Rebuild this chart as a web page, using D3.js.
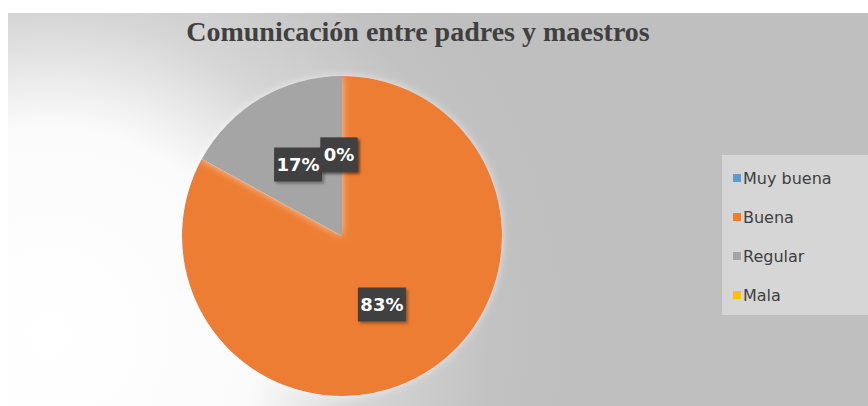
<!DOCTYPE html>
<html>
<head>
<meta charset="utf-8">
<script src="https://cdn.jsdelivr.net/npm/d3@7"></script>
<style>
  body { margin: 0; background: #fff; }
</style>
</head>
<body>
<svg width="868" height="406"></svg>
<script>
const categories = ['Muy buena', 'Buena', 'Regular', 'Mala']
const values = [0, 83, 17, 0]
const colors = ['#5b9bd5', '#ed7d31', '#a5a5a5', '#ffc000']
const title = 'Comunicación entre padres y maestros'

const svg = d3.select('svg')
const defs = svg.append('defs')

// background: white glow low-left fading to gray
const bg = defs.append('radialGradient')
    .attr('id', 'bg')
    .attr('gradientUnits', 'userSpaceOnUse')
    .attr('cx', 50).attr('cy', 335).attr('r', 520)
bg.append('stop').attr('offset', 0).attr('stop-color', '#ffffff')
bg.append('stop').attr('offset', 0.4).attr('stop-color', '#fbfbfb')
bg.append('stop').attr('offset', 0.62).attr('stop-color', '#d5d5d5')
bg.append('stop').attr('offset', 0.85).attr('stop-color', '#c2c2c2')
bg.append('stop').attr('offset', 1).attr('stop-color', '#bfbfbf')

const shadow = defs.append('filter').attr('id', 'sh')
    .attr('x', '-20%').attr('y', '-20%').attr('width', '140%').attr('height', '140%')
shadow.append('feDropShadow').attr('dx', 0).attr('dy', 0).attr('stdDeviation', 4)
    .attr('flood-color', '#ffffff').attr('flood-opacity', 0.6)

const boxShadow = defs.append('filter').attr('id', 'bs')
    .attr('x', '-30%').attr('y', '-30%').attr('width', '160%').attr('height', '160%')
boxShadow.append('feDropShadow').attr('dx', 2).attr('dy', 2).attr('stdDeviation', 1.5)
    .attr('flood-color', '#000').attr('flood-opacity', 0.35)

svg.append('rect')
    .attr('x', 8).attr('y', 13)
    .attr('width', 860).attr('height', 393)
    .attr('fill', 'url(#bg)')

svg.append('text')
    .attr('x', 418).attr('y', 41)
    .attr('text-anchor', 'middle')
    .attr('font-family', '"Liberation Serif", "DejaVu Serif", serif')
    .attr('font-weight', 'bold')
    .attr('font-size', 28)
    .attr('fill', '#404040')
    .text(title)

const cx = 342, cy = 236, r = 160
const data = categories.map((c, i) => ({ name: c, value: values[i], color: colors[i] }))
const total = d3.sum(values)

const pie = d3.pie().sort(null).value(d => d.value)
const arcs = pie(data)
const arc = d3.arc().innerRadius(0).outerRadius(r)
const labelArc = d3.arc().innerRadius(r * 0.49).outerRadius(r * 0.49)

const g = svg.append('g').attr('transform', `translate(${cx},${cy})`)

g.selectAll('path')
    .data(arcs)
    .join('path')
    .attr('d', arc)
    .attr('fill', d => d.data.color)
    .attr('filter', 'url(#sh)')

const fmt = d => Math.round(d.data.value / total * 100) + '%'
const offsets = { 'Muy buena': [-3, -3], 'Mala': [-3, -3], 'Regular': [-4, -4], 'Buena': [0, 1] }

// labels drawn nonzero first so the 0% box sits on top
const order = arcs.slice().sort((a, b) => (b.data.value > 0) - (a.data.value > 0))
const lab = g.selectAll('g.lab')
    .data(order)
    .join('g')
    .attr('class', 'lab')
    .attr('transform', d => {
        const [x, y] = labelArc.centroid(d)
        const o = offsets[d.data.name]
        return `translate(${x + o[0]},${y + o[1]})`
    })

lab.each(function (d) {
    const el = d3.select(this)
    const t = fmt(d)
    const w = t.length * 11 + 15
    el.append('rect')
        .attr('x', -w / 2).attr('y', -17)
        .attr('width', w).attr('height', 34)
        .attr('fill', '#404040')
        .attr('filter', 'url(#bs)')
    el.append('text')
        .attr('text-anchor', 'middle')
        .attr('dy', '0.36em')
        .attr('font-family', '"DejaVu Sans", sans-serif')
        .attr('font-weight', 'bold')
        .attr('font-size', 18)
        .attr('fill', '#ffffff')
        .text(t)
})

// legend
const legend = svg.append('g').attr('transform', 'translate(722,155)')
legend.append('rect')
    .attr('width', 146).attr('height', 160)
    .attr('fill', '#d6d6d6')

const ly = d3.scalePoint().domain(categories).range([23, 140])
const item = legend.selectAll('g.item')
    .data(data)
    .join('g')
    .attr('class', 'item')
    .attr('transform', d => `translate(11,${ly(d.name)})`)
item.append('rect')
    .attr('x', 0).attr('y', -4)
    .attr('width', 8).attr('height', 8)
    .attr('fill', d => d.color)
item.append('text')
    .attr('x', 10)
    .attr('dy', '0.35em')
    .attr('font-family', '"DejaVu Sans", sans-serif')
    .attr('font-size', 16)
    .attr('fill', '#404040')
    .text(d => d.name)
</script>
</body>
</html>
